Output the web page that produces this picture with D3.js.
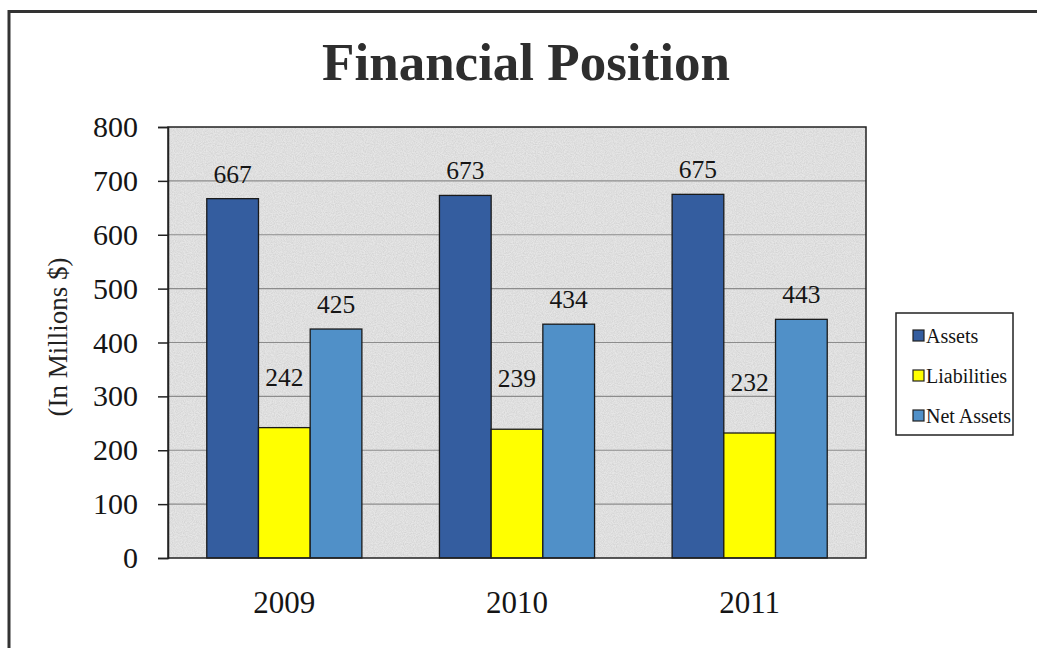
<!DOCTYPE html>
<html>
<head>
<meta charset="utf-8">
<script src="https://cdn.jsdelivr.net/npm/d3@7"></script>
<style>
  html, body { margin: 0; padding: 0; background: #fff; }
  svg { display: block; }
</style>
</head>
<body>
<svg id="chart" width="1037" height="648"></svg>
<script>
// Financial position by year, in millions of dollars
const years = ["2009", "2010", "2011"];
const seriesNames = ["Assets", "Liabilities", "Net Assets"];
const assets = [667, 673, 675];
const liabilities = [242, 239, 232];
const netAssets = [425, 434, 443];
const yTicks = [0, 100, 200, 300, 400, 500, 600, 700, 800];

const seriesValues = [assets, liabilities, netAssets];
const seriesColors = ["#345d9f", "#ffff00", "#5090c8"];
// vertical gap between a bar's top and its value label baseline
const labelGap = [16, 42, 16];

const SERIF = "'Liberation Serif', 'Times New Roman', serif";
const svg = d3.select("#chart");
const W = 1037, H = 648;
const plot = { left: 168, right: 866, top: 127, bottom: 558 };

// subtle paper grain for the plot background
const defs = svg.append("defs");
const f = defs.append("filter").attr("id", "grain").attr("x", 0).attr("y", 0).attr("width", 1).attr("height", 1);
f.append("feTurbulence").attr("type", "fractalNoise").attr("baseFrequency", 0.9).attr("numOctaves", 2).attr("seed", 3).attr("result", "noise");
f.append("feColorMatrix").attr("in", "noise").attr("type", "matrix")
  .attr("values", "0 0 0 0 0.35  0 0 0 0 0.35  0 0 0 0 0.35  0 0 0 0.55 -0.15").attr("result", "dots");
f.append("feComposite").attr("in", "dots").attr("in2", "SourceGraphic").attr("operator", "atop");

// outer frame (top and left edges)
svg.append("path")
  .attr("d", `M9,${H + 5} V11.5 H${W + 5}`)
  .attr("fill", "none").attr("stroke", "#333").attr("stroke-width", 3);

// title
svg.append("text")
  .attr("x", 526).attr("y", 80)
  .attr("text-anchor", "middle")
  .style("font-family", SERIF)
  .style("font-size", "53px").style("font-weight", "bold")
  .style("fill", "#2e2e2e")
  .text("Financial Position");

const x0 = d3.scaleBand().domain(years).range([plot.left, plot.right]).padding(0);
// within each year the three bars fill the middle two thirds of the band
const barsSpan = x0.bandwidth() * 2 / 3;
const x1 = d3.scaleBand().domain(seriesNames)
  .range([(x0.bandwidth() - barsSpan) / 2, (x0.bandwidth() + barsSpan) / 2]).padding(0);
const y = d3.scaleLinear().domain([0, 800]).range([plot.bottom, plot.top]);

// plot background
svg.append("rect")
  .attr("x", plot.left).attr("y", plot.top)
  .attr("width", plot.right - plot.left).attr("height", plot.bottom - plot.top)
  .attr("fill", "#e6e6e6").attr("filter", "url(#grain)");

// gridlines
svg.append("g").selectAll("line").data(yTicks.filter(t => t > 0 && t < 800)).join("line")
  .attr("x1", plot.left).attr("x2", plot.right)
  .attr("y1", d => y(d)).attr("y2", d => y(d))
  .attr("stroke", "#8c8c8c").attr("stroke-width", 1.2);

// bars
const groups = svg.append("g").selectAll("g").data(years).join("g")
  .attr("transform", d => `translate(${x0(d)},0)`);

const cells = (d, i) => seriesNames.map((s, j) => ({ s, j, v: seriesValues[j][i] }));

groups.selectAll("rect").data(cells)
  .join("rect")
  .attr("x", d => x1(d.s))
  .attr("width", x1.bandwidth())
  .attr("y", d => y(d.v))
  .attr("height", d => y(0) - y(d.v))
  .attr("fill", d => seriesColors[d.j])
  .attr("stroke", "#1a1a1a").attr("stroke-width", 1.3);

// value labels
groups.selectAll("text").data(cells)
  .join("text")
  .attr("x", d => x1(d.s) + x1.bandwidth() / 2)
  .attr("y", d => y(d.v) - labelGap[d.j])
  .attr("text-anchor", "middle")
  .style("font-family", SERIF)
  .style("font-size", "25.5px")
  .style("fill", "#151515")
  .text(d => d.v);

// plot border
svg.append("rect")
  .attr("x", plot.left).attr("y", plot.top)
  .attr("width", plot.right - plot.left).attr("height", plot.bottom - plot.top)
  .attr("fill", "none").attr("stroke", "#222").attr("stroke-width", 1.5);

// y axis
const yAxis = svg.append("g").attr("transform", `translate(${plot.left},0)`)
  .call(d3.axisLeft(y).tickValues(yTicks).tickSize(10).tickPadding(20));
yAxis.select(".domain").attr("stroke", "#222").attr("stroke-width", 1.5);
yAxis.selectAll(".tick line").attr("stroke", "#222").attr("stroke-width", 1.5);
yAxis.selectAll(".tick text")
  .style("font-family", SERIF).style("font-size", "30px").attr("fill", "#151515");

// x axis
const xAxis = svg.append("g").attr("transform", `translate(0,${plot.bottom})`)
  .call(d3.axisBottom(x0).tickSize(0).tickPadding(33));
xAxis.select(".domain").remove();
xAxis.selectAll(".tick text")
  .style("font-family", SERIF).style("font-size", "31px").attr("fill", "#151515");

// y axis title
svg.append("text")
  .attr("transform", "translate(58,337) rotate(-90)")
  .attr("text-anchor", "middle")
  .attr("dominant-baseline", "central")
  .style("font-family", SERIF)
  .style("font-size", "27px")
  .style("fill", "#222")
  .text("(In Millions $)");

// legend
const legend = svg.append("g");
legend.append("rect")
  .attr("x", 896).attr("y", 313).attr("width", 117).attr("height", 122)
  .attr("fill", "#fff").attr("stroke", "#222").attr("stroke-width", 1.5);
const legendY = d3.scalePoint().domain(seriesNames).range([336, 416]);
const items = legend.selectAll("g.item").data(seriesNames).join("g").attr("class", "item")
  .attr("transform", d => `translate(913,${legendY(d)})`);
items.append("rect")
  .attr("x", 0).attr("y", -6).attr("width", 11).attr("height", 11)
  .attr("fill", (d, i) => seriesColors[i]).attr("stroke", "#222").attr("stroke-width", 1.2);
items.append("text")
  .attr("x", 13).attr("y", 6.5)
  .style("font-family", SERIF)
  .style("font-size", "20px")
  .style("fill", "#151515")
  .text(d => d);
</script>
</body>
</html>
